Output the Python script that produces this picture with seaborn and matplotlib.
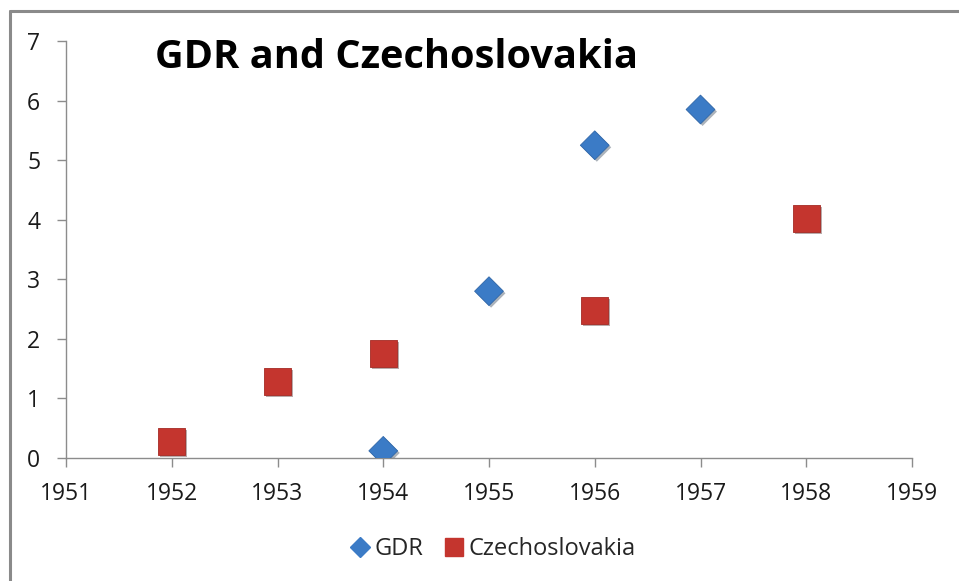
import matplotlib
matplotlib.use("Agg")
import matplotlib.pyplot as plt
import matplotlib.patheffects as pe
from matplotlib.lines import Line2D
import seaborn as sns
import pandas as pd

title = "GDR and Czechoslovakia"
gdr_years = [1954, 1955, 1956, 1957]
gdr_values = [0.12, 2.8, 5.25, 5.85]
cz_years = [1952, 1953, 1954, 1956, 1958]
cz_values = [0.28, 1.28, 1.75, 2.48, 4.02]
x_ticks = [1951, 1952, 1953, 1954, 1955, 1956, 1957, 1958, 1959]
y_ticks = [0, 1, 2, 3, 4, 5, 6, 7]

sns.set_style("white")
plt.rcParams["font.family"] = ["Open Sans", "DejaVu Sans"]

fig = plt.figure(figsize=(9.59, 5.81), dpi=100)
ax = fig.add_axes([66 / 959, 1 - 458 / 581, (912 - 66) / 959, (458 - 41) / 581])

blue = "#3B7BC6"
red = "#C4352E"
shadow = [pe.SimplePatchShadow(offset=(1.5, -1.5), alpha=0.35), pe.Normal()]

df_gdr = pd.DataFrame({"year": gdr_years, "value": gdr_values})
df_cz = pd.DataFrame({"year": cz_years, "value": cz_values})

sns.scatterplot(data=df_gdr, x="year", y="value", marker="D", s=215, color=blue,
                edgecolor="#2f66a8", linewidth=0.6, ax=ax, zorder=3)
sns.scatterplot(data=df_cz, x="year", y="value", marker="s", s=370, color=red,
                edgecolor="#a52a24", linewidth=0.6, ax=ax, zorder=3)
for coll in ax.collections:
    coll.set_path_effects(shadow)

ax.set_xlim(1951, 1959)
ax.set_ylim(0, 7)
ax.set_xticks(x_ticks)
ax.set_yticks(y_ticks)
ax.set_xticklabels([str(v) for v in x_ticks])
ax.set_yticklabels([str(v) for v in y_ticks])
ax.set_xlabel("")
ax.set_ylabel("")

for side in ["top", "right"]:
    ax.spines[side].set_visible(False)
for side in ["left", "bottom"]:
    ax.spines[side].set_color("#8c8c8c")
    ax.spines[side].set_linewidth(1.0)
ax.tick_params(axis="both", which="major", direction="out", length=6.5, width=1.0,
               color="#8c8c8c", labelsize=16.5, labelcolor="#1a1a1a",
               left=True, bottom=True)
ax.tick_params(axis="y", pad=12)
ax.tick_params(axis="x", pad=11)

fig.text(155 / 959, 1 - 58 / 581, title, fontsize=28.6, fontweight="bold",
         ha="left", va="center", color="black")

handles = [
    Line2D([], [], marker="D", linestyle="none", color=blue, markersize=10.5),
    Line2D([], [], marker="s", linestyle="none", color=red, markersize=13),
]
fig.legend(handles, ["GDR", "Czechoslovakia"], loc="center", bbox_to_anchor=(0.514, 1 - 549 / 581),
           ncol=2, frameon=False, fontsize=17, handlelength=0.8, handletextpad=0.2,
           columnspacing=0.9)

# outer frame (left and top lines)
fig.add_artist(Line2D([9.5 / 959, 9.5 / 959], [0, 1 - 10.5 / 581], transform=fig.transFigure,
                      color="#8a8a8a", linewidth=2.2))
fig.add_artist(Line2D([9.5 / 959, 1], [1 - 11 / 581, 1 - 11 / 581], transform=fig.transFigure,
                      color="#8a8a8a", linewidth=2.2))

fig.savefig("out.png", dpi=100)
